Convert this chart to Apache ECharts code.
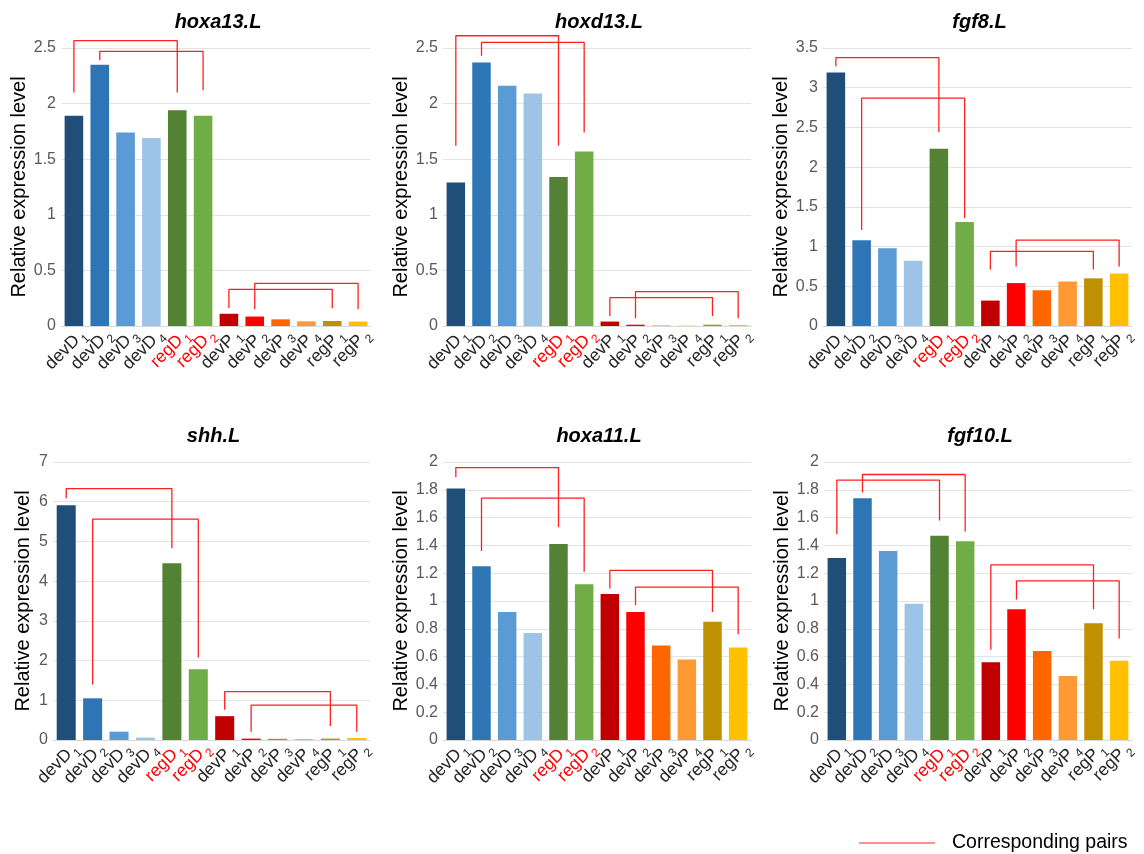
<!DOCTYPE html>
<html>
<head>
<meta charset="utf-8">
<script src="https://cdn.jsdelivr.net/npm/echarts@6/dist/echarts.min.js"></script>
<style>
  html, body { margin: 0; padding: 0; background: #ffffff; }
  #chart { width: 1144px; height: 854px; }
</style>
</head>
<body>
<div id="chart"></div>
<script>
// Samples shown on every x axis (last character is drawn as a subscript)
const categories = ['devD1', 'devD2', 'devD3', 'devD4', 'regD1', 'regD2',
                    'devP1', 'devP2', 'devP3', 'devP4', 'regP1', 'regP2'];

// Gene names, one panel each
const genes = ['hoxa13.L', 'hoxd13.L', 'fgf8.L', 'shh.L', 'hoxa11.L', 'fgf10.L'];

// Relative expression level per sample
const hoxa13 = [1.89, 2.35, 1.74, 1.69, 1.94, 1.89, 0.11, 0.085, 0.06, 0.042, 0.045, 0.04];
const hoxd13 = [1.29, 2.37, 2.16, 2.09, 1.34, 1.57, 0.04, 0.012, 0.004, 0.003, 0.012, 0.01];
const fgf8   = [3.19, 1.08, 0.98, 0.82, 2.23, 1.31, 0.32, 0.54, 0.45, 0.56, 0.60, 0.66];
const shh    = [5.91, 1.05, 0.21, 0.06, 4.45, 1.78, 0.60, 0.035, 0.03, 0.02, 0.035, 0.05];
const hoxa11 = [1.81, 1.25, 0.92, 0.77, 1.41, 1.12, 1.05, 0.92, 0.68, 0.58, 0.85, 0.665];
const fgf10  = [1.31, 1.74, 1.36, 0.98, 1.47, 1.43, 0.56, 0.94, 0.64, 0.46, 0.84, 0.57];

// Value-axis ranges
const yMaxes = [2.5, 2.5, 3.5, 7, 2, 2];
const ySteps = [0.5, 0.5, 0.5, 1, 0.2, 0.2];

// Corresponding-pair brackets: [from sample, to sample, from-leg end, bar level, to-leg end]
const hoxa13Pairs = [['devD1', 'regD1', 2.10, 2.566, 2.10], ['devD2', 'regD2', 2.39, 2.47, 2.12],
                     ['devP1', 'regP1', 0.16, 0.33, 0.16], ['devP2', 'regP2', 0.15, 0.384, 0.15]];
const hoxd13Pairs = [['devD1', 'regD1', 1.62, 2.61, 1.62], ['devD2', 'regD2', 2.43, 2.55, 1.74],
                     ['devP1', 'regP1', 0.09, 0.255, 0.09], ['devP2', 'regP2', 0.07, 0.31, 0.07]];
const fgf8Pairs   = [['devD1', 'regD1', 3.27, 3.38, 2.44], ['devD2', 'regD2', 1.21, 2.87, 1.36],
                     ['devP1', 'regP1', 0.71, 0.94, 0.71], ['devP2', 'regP2', 0.75, 1.08, 0.75]];
const shhPairs    = [['devD1', 'regD1', 6.09, 6.33, 4.83], ['devD2', 'regD2', 1.40, 5.56, 2.08],
                     ['devP1', 'regP1', 0.76, 1.22, 0.35], ['devP2', 'regP2', 0.21, 0.88, 0.21]];
const hoxa11Pairs = [['devD1', 'regD1', 1.89, 1.96, 1.53], ['devD2', 'regD2', 1.36, 1.74, 1.21],
                     ['devP1', 'regP1', 1.09, 1.22, 0.92], ['devP2', 'regP2', 0.97, 1.10, 0.76]];
const fgf10Pairs  = [['devD1', 'regD1', 1.48, 1.87, 1.58], ['devD2', 'regD2', 1.78, 1.91, 1.50],
                     ['devP1', 'regP1', 0.65, 1.26, 0.94], ['devP2', 'regP2', 1.01, 1.145, 0.73]];

const pairLabel = 'Corresponding pairs';

const panelValues = [hoxa13, hoxd13, fgf8, shh, hoxa11, fgf10];
const panelPairs = [hoxa13Pairs, hoxd13Pairs, fgf8Pairs, shhPairs, hoxa11Pairs, fgf10Pairs];

// Bar colours per sample
const barColors = ['#1F4E79', '#2E75B6', '#5B9BD5', '#9DC3E6', '#548235', '#70AD47',
                   '#C00000', '#FF0000', '#FF6600', '#FF9933', '#BF9000', '#FFC000'];

// Plot-area boxes for the 2 x 3 panel layout
const boxes = [
  { left: 61,  top: 48,  width: 310, height: 278, nameGap: 27.5 },
  { left: 443, top: 48,  width: 308, height: 278, nameGap: 29 },
  { left: 823, top: 48,  width: 309, height: 278, nameGap: 29 },
  { left: 53,  top: 462, width: 317, height: 278, nameGap: 19.5 },
  { left: 443, top: 462, width: 308, height: 278, nameGap: 29 },
  { left: 824, top: 462, width: 308, height: 278, nameGap: 30 }
];

const FONT = 'Liberation Sans, Arial, sans-serif';

const grids = [], xAxes = [], yAxes = [], series = [], titles = [];

boxes.forEach((b, p) => {
  grids.push({ left: b.left, top: b.top, width: b.width, height: b.height, containLabel: false });

  titles.push({
    text: genes[p],
    left: b.left + b.width / 2 - 3,
    top: b.top - 41,
    textAlign: 'center',
    textStyle: { fontFamily: FONT, fontSize: 20, fontWeight: 'bold', fontStyle: 'italic', color: '#000000' }
  });

  xAxes.push({
    type: 'category',
    gridIndex: p,
    data: categories,
    axisTick: { show: false },
    axisLine: { lineStyle: { color: '#D9D9D9', width: 1 } },
    axisLabel: {
      interval: 0,
      rotate: 45,
      margin: 15,
      padding: [0, -13, 0, 0],
      fontFamily: FONT,
      formatter: (v) => {
        const base = v.slice(0, -1), sub = v.slice(-1);
        const red = v.startsWith('regD');
        return red ? '{r|' + base + '}{rs|' + sub + '}' : '{b|' + base + '}{s|' + sub + '}';
      },
      rich: {
        b:  { fontFamily: FONT, fontSize: 17.5, color: '#262626', lineHeight: 20 },
        r:  { fontFamily: FONT, fontSize: 17.5, color: '#FF0000', lineHeight: 20 },
        s:  { fontFamily: FONT, fontSize: 12, color: '#262626', lineHeight: 20, verticalAlign: 'bottom', padding: [0, 0, -3, 2] },
        rs: { fontFamily: FONT, fontSize: 12, color: '#FF0000', lineHeight: 20, verticalAlign: 'bottom', padding: [0, 0, -3, 2] }
      }
    }
  });

  yAxes.push({
    type: 'value',
    gridIndex: p,
    min: 0,
    max: yMaxes[p],
    interval: ySteps[p],
    name: 'Relative expression level',
    nameLocation: 'middle',
    nameGap: b.nameGap,
    nameTextStyle: { fontFamily: FONT, fontSize: 20, color: '#000000' },
    axisLine: { show: false },
    axisTick: { show: false },
    axisLabel: { fontFamily: FONT, fontSize: 16, color: '#595959', margin: 5 },
    splitLine: { lineStyle: { color: '#E3E3E3', width: 1 } }
  });

  series.push({
    type: 'bar',
    xAxisIndex: p,
    yAxisIndex: p,
    barCategoryGap: '28%',
    data: panelValues[p].map((v, i) => ({ value: v, itemStyle: { color: barColors[i] } })),
    silent: true,
    z: 2
  });

  // Bracket connecting each sample with its counterpart
  panelPairs[p].forEach(([from, to, fromEnd, level, toEnd]) => {
    series.push({
      type: 'line',
      name: pairLabel,
      xAxisIndex: p,
      yAxisIndex: p,
      data: [[from, fromEnd], [from, level], [to, level], [to, toEnd]],
      symbol: 'none',
      clip: false,
      silent: true,
      animation: false,
      color: '#FF2020',
      lineStyle: { color: '#FF2020', width: 1.3 },
      z: 5
    });
  });
});

const chart = echarts.init(document.getElementById('chart'), null, { renderer: 'canvas' });
chart.setOption({
  animation: false,
  backgroundColor: '#ffffff',
  title: titles,
  grid: grids,
  xAxis: xAxes,
  yAxis: yAxes,
  series: series,
  legend: {
    data: [pairLabel],
    left: 854,
    top: 828,
    itemWidth: 76,
    itemHeight: 20,
    icon: 'path://M0,9.5 L76,9.5 L76,10.5 L0,10.5 Z',
    itemStyle: { color: '#FF2020' },
    textStyle: { fontFamily: FONT, fontSize: 19.5, color: '#000000', padding: [6, 0, 0, 12] },
    selectedMode: false
  }
});
</script>
</body>
</html>
